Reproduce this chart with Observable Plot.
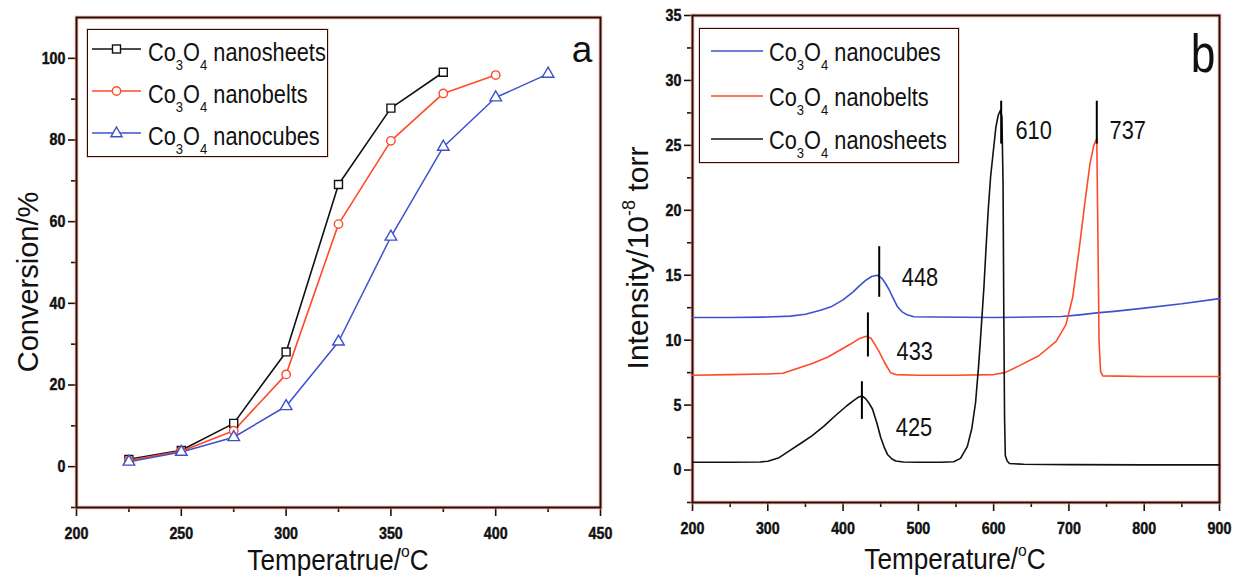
<!DOCTYPE html>
<html>
<head>
<meta charset="utf-8">
<script src="https://cdn.jsdelivr.net/npm/d3@7"></script>
<script src="https://cdn.jsdelivr.net/npm/@observablehq/plot@0.6"></script>
<style>
  body { margin: 0; background: #fff; }
  #wrap { position: relative; width: 1234px; height: 578px; overflow: hidden; background: #fff;
          font-family: "Liberation Sans", Arial, sans-serif; color: #111; }
  .panel { position: absolute; top: 0; }
  .ov { position: absolute; white-space: nowrap; line-height: 1; z-index: 2; }
  .rot { position: absolute; white-space: nowrap; line-height: 1; z-index: 2; transform: translate(-50%, -50%) rotate(-90deg); }
  .legend { position: absolute; border: 1.6px solid #2a0c06; background: #fff; box-sizing: border-box; z-index: 2;
            box-shadow: 0 0 0 1px rgba(240,150,130,0.45); }
  .legend .txt { position: absolute; white-space: nowrap; line-height: 1; font-size: 25px;
                 transform-origin: left center; transform: scaleX(0.87); }
  .legend svg { position: absolute; left: 0; top: 0; overflow: visible; }
  sub { font-size: 0.6em; vertical-align: -0.62em; line-height: 0; }
  sup { font-size: 0.6em; vertical-align: 0.75em; line-height: 0; }
</style>
</head>
<body>
<div id="wrap">
  <div id="pa" class="panel" style="left:0px"></div>
  <div id="pb" class="panel" style="left:615px"></div>
</div>
<script>
// ---------- Panel a: conversion vs temperature ----------
const tempsA = [225, 250, 275, 300, 325, 350, 375, 400, 425];
const sheetsConv = [1.8, 4.0, 10.6, 28.1, 69.1, 87.8, 96.6];
const beltsConv  = [1.5, 3.8, 8.8, 22.6, 59.4, 79.8, 91.4, 95.9];
const cubesConv  = [1.2, 3.6, 7.2, 14.8, 30.6, 56.3, 78.3, 90.4, 96.2];
const xTicksA = [200, 250, 300, 350, 400, 450];
const xMinorA = [225, 275, 325, 375, 425];
const yTicksA = [0, 20, 40, 60, 80, 100];
const yMinorA = [-10, 10, 30, 50, 70, 90];

// ---------- Panel b: TPR profiles ----------
const cubesT = [200,250,300,330,350,370,385,400,413,422,430,438,445,451,456,461,466,472,478,485,494,520,600,650,690,714,737,760,800,850,900];
const cubesI = [11.75,11.75,11.78,11.85,12.0,12.3,12.6,13.1,13.7,14.2,14.6,14.9,15.0,14.8,14.4,13.9,13.3,12.6,12.2,11.95,11.8,11.78,11.75,11.78,11.82,11.95,12.1,12.22,12.47,12.8,13.2];
const beltsT = [200,250,300,320,335,359,380,395,410,421,431,437,442,448,455,463,470,500,550,600,615,633,660,683,696,705,714,721,728,733,737,738.5,740,742,745,800,900];
const beltsI = [7.3,7.35,7.4,7.45,7.75,8.2,8.7,9.2,9.7,10.1,10.3,10.15,9.7,9.1,8.3,7.5,7.35,7.3,7.3,7.35,7.5,8.0,8.8,9.9,11.2,13.3,17.2,20.5,23.6,25.0,25.5,18,10,7.6,7.25,7.2,7.2];
const sheetsT = [200,250,290,300,315,328,345,359,375,390,405,413,420,425,430,435,439,445,450,455,459,465,470,480,500,530,547,556,565,571,576,580,583,587,590,593,596,600,603,606,609,611,612.5,613.5,614.5,615.5,618,621,640,700,800,900];
const sheetsI = [0.6,0.6,0.62,0.68,0.95,1.45,2.1,2.65,3.4,4.2,4.95,5.3,5.6,5.7,5.5,5.1,4.7,3.6,2.5,1.7,1.2,0.85,0.7,0.62,0.6,0.6,0.64,0.9,1.8,3.2,5.2,8.0,10.5,14.0,17.2,20.2,22.6,24.8,26.4,27.3,27.7,27.2,22,12,4,1.1,0.7,0.5,0.45,0.42,0.4,0.4];
const peakTemps  = [448, 433, 425, 610, 737];
const peakLow    = [13.3, 8.7, 3.9, 25.1, 25.1];
const peakHigh   = [17.2, 12.1, 6.8, 28.4, 28.4];
const peakLabels = ["448", "433", "425", "610", "737"];
const labelTemps = [478, 471, 470, 629, 754];
const labelLevels = [14.8, 9.1, 3.3, 26.1, 26.1];
const xTicksB = [200, 300, 400, 500, 600, 700, 800, 900];
const xMinorB = [250, 350, 450, 550, 650, 750, 850];
const yTicksB = [0, 5, 10, 15, 20, 25, 30, 35];
const yMinorB = [-2.5, 2.5, 7.5, 12.5, 17.5, 22.5, 27.5, 32.5];

const C_BLACK = "#111111", C_RED = "#ff4a2a", C_BLUE = "#3c52cc", C_FRAME = "#2a0c06";
const series = (xs, ys) => ys.map((v, i) => ({t: xs[i], v}));

const axisStyle = {
  fontFamily: '"Liberation Sans", Arial, sans-serif',
  fontSize: "16px", color: C_FRAME, background: "transparent", overflow: "visible"
};

function axes(xMaj, xMin, yMaj, yMin) {
  return [
    Plot.axisX(xMaj, {tickSize: 9, tickPadding: 10, strokeWidth: 1.6, label: null, fill: "#111"}),
    Plot.axisX(xMin, {tickSize: 5, tickFormat: () => "", strokeWidth: 1.6, label: null}),
    Plot.axisY(yMaj, {tickSize: 8, tickPadding: 3, strokeWidth: 1.6, label: null, fill: "#111"}),
    Plot.axisY(yMin, {tickSize: 5, tickFormat: () => "", strokeWidth: 1.6, label: null}),
    Plot.frame({stroke: "#f2a090", strokeWidth: 4, strokeOpacity: 0.55}),
    Plot.frame({stroke: C_FRAME, strokeWidth: 2})
  ];
}

// horizontally condense every svg text about its own anchor point; heavier tick labels
function condense(svg, k) {
  d3.select(svg).selectAll("text").each(function() {
    const p = this.parentNode && this.parentNode.getAttribute ? (this.parentNode.getAttribute("aria-label") || "") : "";
    if (/tick/.test(p)) {
      this.setAttribute("font-size", "17");
      this.setAttribute("font-weight", "bold");
      this.setAttribute("stroke", "#111");
      this.setAttribute("stroke-width", "0.45");
    }
    const x = +this.getAttribute("x") || 0, y = +this.getAttribute("y") || 0;
    const t = this.getAttribute("transform") || "";
    this.setAttribute("transform", `${t} translate(${x},${y}) scale(${k},1) translate(${-x},${-y})`);
  });
}

const sA = series(tempsA, sheetsConv), bA = series(tempsA, beltsConv), cA = series(tempsA, cubesConv);
const plotA = Plot.plot({
  width: 615, height: 578,
  marginLeft: 76, marginRight: 15, marginTop: 17, marginBottom: 71,
  x: {domain: [200, 450]},
  y: {domain: [-10, 110]},
  style: axisStyle,
  marks: [
    ...axes(xTicksA, xMinorA, yTicksA, yMinorA),
    Plot.line(sA, {x: "t", y: "v", stroke: C_BLACK, strokeWidth: 1.6}),
    Plot.line(bA, {x: "t", y: "v", stroke: C_RED, strokeWidth: 1.6}),
    Plot.line(cA, {x: "t", y: "v", stroke: C_BLUE, strokeWidth: 1.5}),
    Plot.dot(sA, {x: "t", y: "v", symbol: "square", r: 4.5, stroke: C_BLACK, fill: "white", strokeWidth: 1.4}),
    Plot.dot(bA, {x: "t", y: "v", symbol: "circle", r: 4.2, stroke: C_RED, fill: "white", strokeWidth: 1.4}),
    Plot.dot(cA, {x: "t", y: "v", symbol: "triangle", r: 4.3, stroke: C_BLUE, fill: "white", strokeWidth: 1.4})
  ]
});
condense(plotA, 0.84);
document.getElementById("pa").appendChild(plotA);

const peaks = peakTemps.map((t, i) => ({t, lo: peakLow[i], hi: peakHigh[i], label: peakLabels[i], lt: labelTemps[i], lv: labelLevels[i]}));
const plotB = Plot.plot({
  width: 619, height: 578,
  marginLeft: 77, marginRight: 15, marginTop: 15, marginBottom: 76,
  x: {domain: [200, 900]},
  y: {domain: [-2.5, 35]},
  style: axisStyle,
  marks: [
    ...axes(xTicksB, xMinorB, yTicksB, yMinorB),
    Plot.line(series(cubesT, cubesI), {x: "t", y: "v", stroke: C_BLUE, strokeWidth: 1.6}),
    Plot.line(series(beltsT, beltsI), {x: "t", y: "v", stroke: C_RED, strokeWidth: 1.6}),
    Plot.line(series(sheetsT, sheetsI), {x: "t", y: "v", stroke: C_BLACK, strokeWidth: 1.6}),
    Plot.ruleX(peaks, {x: "t", y1: "lo", y2: "hi", stroke: "#000", strokeWidth: 2}),
    Plot.text(peaks, {x: "lt", y: "lv", text: "label", textAnchor: "start", lineAnchor: "middle",
                      fontSize: 26, fontWeight: "normal", fill: "#111"})
  ]
});
condense(plotB, 0.84);
document.getElementById("pb").appendChild(plotB);

// ---------- overlays: titles, panel letters, legends ----------
const wrap = document.getElementById("wrap");
function addDiv(cls, html, css) {
  const d = document.createElement("div");
  d.className = cls; d.innerHTML = html;
  Object.assign(d.style, css);
  wrap.appendChild(d);
  return d;
}
// x-axis titles
addDiv("ov", "Temperatrue/<sup>o</sup>C", {left: "338px", top: (571 - 0.8465 * 29) + "px", fontSize: "29px", transform: "translateX(-50%) scaleX(0.9)"});
addDiv("ov", "Temperature/<sup>o</sup>C", {left: "955px", top: (570 - 0.8465 * 29) + "px", fontSize: "29px", transform: "translateX(-50%) scaleX(0.9)"});
// y-axis titles
addDiv("rot", "Conversion/%", {left: (37.6 - 0.3465 * 29) + "px", top: "282px", fontSize: "29px"});
addDiv("rot", "Intensity/10<sup>-8</sup> torr", {left: (648 - 0.3465 * 30) + "px", top: "258px", fontSize: "30px"});
// panel letters
addDiv("ov", "a", {left: "582px", top: (62 - 0.8465 * 37) + "px", fontSize: "37px", transform: "translateX(-50%)"});
addDiv("ov", "b", {left: "1203px", top: (72 - 0.8465 * 54) + "px", fontSize: "54px", transform: "translateX(-50%) scaleX(0.82)"});

// legends
const legendNames = ["nanosheets", "nanobelts", "nanocubes"];
function symbolSvg(kind, color, cx, cy) {
  if (kind === "square") return `<rect x="${cx-4}" y="${cy-4}" width="8" height="8" fill="#fff" stroke="${color}" stroke-width="1.4"/>`;
  if (kind === "circle") return `<circle cx="${cx}" cy="${cy}" r="4.2" fill="#fff" stroke="${color}" stroke-width="1.4"/>`;
  if (kind === "triangle") return `<path d="M${cx},${cy-6}L${cx+5.6},${cy+3.8}L${cx-5.6},${cy+3.8}Z" fill="#fff" stroke="${color}" stroke-width="1.4"/>`;
  return "";
}
function legend(box, rows) {
  const d = addDiv("legend", "", {left: box.left + "px", top: box.top + "px", width: box.w + "px", height: box.h + "px"});
  let svg = `<svg width="${box.w}" height="${box.h}">`;
  let html = "";
  rows.forEach(r => {
    svg += `<line x1="${r.x0}" x2="${r.x1}" y1="${r.ly}" y2="${r.ly}" stroke="${r.color}" stroke-width="1.6"/>`;
    if (r.symbol) svg += symbolSvg(r.symbol, r.color, (r.x0 + r.x1) / 2, r.ly);
    html += `<div class="txt" style="left:${r.tx}px;top:${r.base - 0.8465 * 25}px">Co<sub>3</sub>O<sub>4</sub> ${r.name}</div>`;
  });
  svg += "</svg>";
  d.innerHTML = svg + html;
}
legend({left: 87, top: 29, w: 241, h: 128}, [
  {name: legendNames[0], color: C_BLACK, symbol: "square",   x0: 4, x1: 53, ly: 19, tx: 60, base: 31},
  {name: legendNames[1], color: C_RED,   symbol: "circle",   x0: 4, x1: 53, ly: 61, tx: 60, base: 72.7},
  {name: legendNames[2], color: C_BLUE,  symbol: "triangle", x0: 4, x1: 53, ly: 103, tx: 60, base: 115}
]);
legend({left: 699, top: 28, w: 260, h: 135}, [
  {name: legendNames[2], color: C_BLUE,  x0: 11, x1: 63, ly: 22, tx: 69, base: 32},
  {name: legendNames[1], color: C_RED,   x0: 11, x1: 63, ly: 67, tx: 69, base: 77},
  {name: legendNames[0], color: C_BLACK, x0: 11, x1: 63, ly: 110, tx: 69, base: 120}
]);
</script>
</body>
</html>
